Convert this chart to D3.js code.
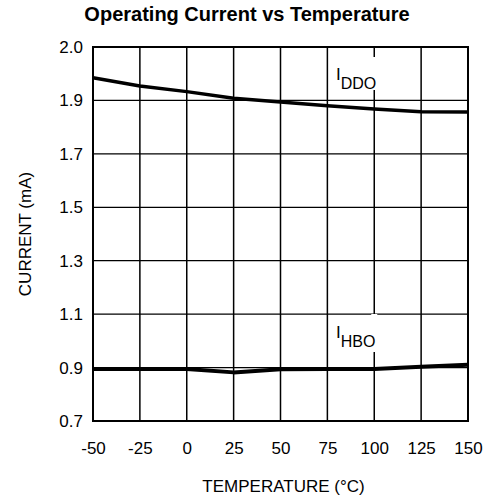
<!DOCTYPE html>
<html>
<head>
<meta charset="utf-8">
<script src="https://cdn.jsdelivr.net/npm/d3@7"></script>
<style>
  html, body { margin: 0; padding: 0; background: #fff; }
  svg { display: block; }
  text { font-family: "Liberation Sans", Arial, Helvetica, sans-serif; fill: #000; }
</style>
</head>
<body>
<svg id="chart" width="496" height="501"></svg>
<script>
// ---- Data ----
const temperatures = [-50, -25, 0, 25, 50, 75, 100, 125, 150];
const iddo = [1.985, 1.954, 1.933, 1.908, 1.894, 1.880, 1.868, 1.858, 1.857];
const ihbo = [0.895, 0.895, 0.895, 0.882, 0.894, 0.895, 0.895, 0.903, 0.911];
const xTickValues = [-50, -25, 0, 25, 50, 75, 100, 125, 150];
const xTickLabels = ["-50", "-25", "0", "25", "50", "75", "100", "125", "150"];
const yTickValues = [0.7, 0.9, 1.1, 1.3, 1.5, 1.7, 1.9, 2.1];
const yTickLabels = ["0.7", "0.9", "1.1", "1.3", "1.5", "1.7", "1.9", "2.0"];
const titleText = "Operating Current vs Temperature";
const xAxisTitle = "TEMPERATURE (°C)";
const yAxisTitle = "CURRENT (mA)";

// ---- Layout ----
const svg = d3.select("#chart");
const plot = { left: 93, right: 468, top: 47, bottom: 421 };

const x = d3.scaleLinear().domain([-50, 150]).range([plot.left, plot.right]);
const y = d3.scaleLinear().domain([0.7, 2.1]).range([plot.bottom, plot.top]);

// Vertical grid lines
const grid = svg.append("g");
xTickValues.slice(1, -1).forEach(v => {
  grid.append("line")
    .attr("x1", x(v)).attr("x2", x(v))
    .attr("y1", plot.top).attr("y2", plot.bottom)
    .attr("stroke", "#000").attr("stroke-width", 1.5);
});
// Horizontal grid lines
yTickValues.slice(1, -1).forEach(v => {
  grid.append("line")
    .attr("x1", plot.left).attr("x2", plot.right)
    .attr("y1", y(v)).attr("y2", y(v))
    .attr("stroke", "#000").attr("stroke-width", 1.3);
});

// Frame
svg.append("rect")
  .attr("x", plot.left).attr("y", plot.top)
  .attr("width", plot.right - plot.left).attr("height", plot.bottom - plot.top)
  .attr("fill", "none").attr("stroke", "#000").attr("stroke-width", 2);

// Axes (labels only)
const xAxis = d3.axisBottom(x).tickValues(xTickValues)
  .tickFormat((d, i) => xTickLabels[i]).tickSize(0).tickPadding(0);
const gx = svg.append("g").attr("transform", `translate(0,${plot.bottom + 21})`).call(xAxis);
gx.select(".domain").remove();
gx.selectAll("text").attr("font-size", 17).attr("font-family", null).attr("dy", "0.71em");

const yAxis = d3.axisLeft(y).tickValues(yTickValues)
  .tickFormat((d, i) => yTickLabels[i]).tickSize(0).tickPadding(0);
const gy = svg.append("g").attr("transform", `translate(${plot.left - 10},0)`).call(yAxis);
gy.select(".domain").remove();
gy.selectAll("text").attr("font-size", 17).attr("font-family", null);

// Series lines
const line = d3.line().x((d, i) => x(temperatures[i])).y(d => y(d));
svg.append("path").datum(iddo).attr("d", line)
  .attr("fill", "none").attr("stroke", "#000").attr("stroke-width", 3.5).attr("stroke-linejoin", "round");
svg.append("path").datum(ihbo).attr("d", line)
  .attr("fill", "none").attr("stroke", "#000").attr("stroke-width", 4).attr("stroke-linejoin", "round");

// Series labels with gaps in the 100 °C grid line
function seriesLabel(xPos, gapTop, gapBottom, baseline, sub) {
  svg.append("rect").attr("x", x(100) - 3).attr("y", gapTop)
    .attr("width", 6).attr("height", gapBottom - gapTop).attr("fill", "#fff");
  const t = svg.append("text").attr("x", xPos).attr("y", baseline).attr("font-size", 17);
  t.append("tspan").text("I");
  t.append("tspan").attr("dy", 9).attr("font-size", 16).text(sub);
}
seriesLabel(336, 57, 90, 80, "DDO");
seriesLabel(336, 314, 352, 338, "HBO");

// Title
svg.append("text").attr("x", 247).attr("y", 21).attr("text-anchor", "middle")
  .attr("font-size", 20).attr("font-weight", "bold").text(titleText);

// Axis titles
svg.append("text").attr("x", (plot.left + plot.right) / 2 + 3).attr("y", 492)
  .attr("text-anchor", "middle").attr("font-size", 17).text(xAxisTitle);
svg.append("text")
  .attr("transform", `translate(31,${(plot.top + plot.bottom) / 2}) rotate(-90)`)
  .attr("text-anchor", "middle").attr("font-size", 17).text(yAxisTitle);
</script>
</body>
</html>
